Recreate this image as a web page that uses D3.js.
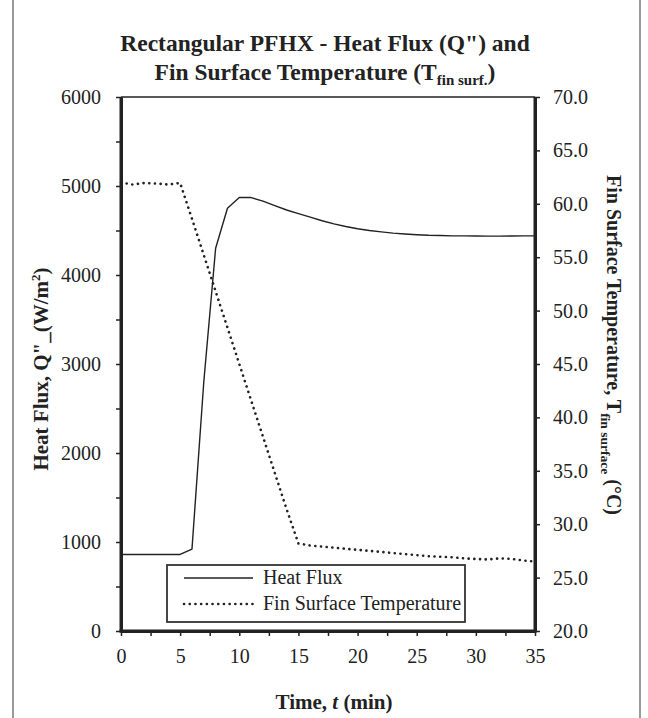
<!DOCTYPE html>
<html><head><meta charset="utf-8">
<script src="https://cdn.jsdelivr.net/npm/d3@7"></script>
<style>body{margin:0;background:#fff}text{font-family:"Liberation Serif","Times New Roman",serif;fill:#222}</style></head>
<body><svg id="c" width="648" height="718"></svg>
<script>
const time = [0,1,2,3,4,5,6,7,8,9,10,11,12,13,14,15,16,17,18,19,20,21,22,23,24,25,26,27,28,29,30,31,32,33,34,35];
const heatFlux = [860,860,860,860,860,860,920,2800,4300,4750,4870,4870,4830,4780,4730,4690,4650,4610,4575,4545,4520,4500,4485,4470,4460,4452,4446,4443,4440,4440,4438,4437,4437,4438,4440,4440];
const finTemp = [62.0,61.8,61.95,61.9,61.8,61.95,58.6,55.2,51.8,48.4,45.0,41.6,38.2,34.8,31.4,28.2,28.0,27.9,27.8,27.7,27.6,27.5,27.4,27.3,27.2,27.1,27.0,26.95,26.9,26.8,26.75,26.7,26.8,26.75,26.6,26.5];
const xTicks = [0,5,10,15,20,25,30,35];
const xMinor = [2.5,7.5,12.5,17.5,22.5,27.5,32.5];
const yLeftTicks = [0,1000,2000,3000,4000,5000,6000];
const yLeftMinor = [500,1500,2500,3500,4500,5500];
const yRightTicks = [20,25,30,35,40,45,50,55,60,65,70];
const seriesNames = ["Heat Flux","Fin Surface Temperature"];

const svg = d3.select("#c");
const L=121, R=535, T=97, B=631;
const x = d3.scaleLinear().domain([0,35]).range([L,R]);
const yL = d3.scaleLinear().domain([0,6000]).range([B,T]);
const yR = d3.scaleLinear().domain([20,70]).range([B,T]);

// outer frame (side edges)
svg.append("line").attr("x1",13).attr("x2",13).attr("y1",0).attr("y2",718).attr("stroke","#9a9a9a").attr("stroke-width",2);
svg.append("line").attr("x1",640).attr("x2",640).attr("y1",0).attr("y2",718).attr("stroke","#9a9a9a").attr("stroke-width",2);

// title
const title = svg.append("text").attr("text-anchor","middle").attr("font-weight","bold").attr("font-size",23.5);
title.append("tspan").attr("x",325).attr("y",51).text('Rectangular PFHX - Heat Flux (Q") and');
const t2 = title.append("tspan").attr("x",325).attr("y",80);
t2.append("tspan").text("Fin Surface Temperature (T");
t2.append("tspan").attr("font-size",15).attr("dy",5).text("fin surf.");
t2.append("tspan").attr("dy",-5).text(")");

function styleAxis(g){
  g.select(".domain").attr("stroke","#222").attr("stroke-width",3);
  g.selectAll(".tick line").attr("stroke","#222").attr("stroke-width",1.5);
  g.selectAll("text").attr("font-size",20).attr("fill","#222").attr("font-family",'"Liberation Serif","Times New Roman",serif');
}
// bottom axis
svg.append("g").attr("transform",`translate(0,${B})`)
  .call(d3.axisBottom(x).tickValues(xMinor).tickSize(5).tickSizeOuter(0).tickFormat(""))
  .call(g=>{g.select(".domain").remove(); g.selectAll(".tick line").attr("stroke","#222").attr("stroke-width",1.5);});
svg.append("g").attr("transform",`translate(0,${B})`)
  .call(d3.axisBottom(x).tickValues(xTicks).tickSize(5).tickSizeOuter(0).tickPadding(13).tickFormat(d3.format("d")))
  .call(styleAxis);
// left axis
svg.append("g").attr("transform",`translate(${L},0)`)
  .call(d3.axisLeft(yL).tickValues(yLeftMinor).tickSize(5).tickFormat(""))
  .call(g=>{g.select(".domain").remove(); g.selectAll(".tick line").attr("stroke","#222").attr("stroke-width",1.5);});
svg.append("g").attr("transform",`translate(${L},0)`)
  .call(d3.axisLeft(yL).tickValues(yLeftTicks).tickSize(5).tickSizeOuter(0).tickPadding(15).tickFormat(d3.format("d")))
  .call(styleAxis);
// right axis
svg.append("g").attr("transform",`translate(${R},0)`)
  .call(d3.axisRight(yR).tickValues(yRightTicks).tickSize(5).tickSizeOuter(0).tickPadding(13).tickFormat(d3.format(".1f")))
  .call(styleAxis);

// plot frame lines (explicit)
const fr = svg.append("g").attr("stroke","#222").attr("fill","none");
fr.append("line").attr("x1",L).attr("x2",R).attr("y1",T).attr("y2",T).attr("stroke-width",1.3);
fr.append("line").attr("x1",L).attr("x2",L).attr("y1",T).attr("y2",B+1.5).attr("stroke-width",3);
fr.append("line").attr("x1",R).attr("x2",R).attr("y1",T).attr("y2",B+1.5).attr("stroke-width",3);
fr.append("line").attr("x1",L-1.5).attr("x2",R+1.5).attr("y1",B).attr("y2",B).attr("stroke-width",3);

// lines
const lineHF = d3.line().x((d,i)=>x(time[i])).y(d=>yL(d));
const lineT = d3.line().x((d,i)=>x(time[i])).y(d=>yR(d));
svg.append("path").attr("d",lineHF(heatFlux)).attr("fill","none").attr("stroke","#222").attr("stroke-width",1.4).attr("stroke-linejoin","round");
svg.append("path").attr("d",lineT(finTemp)).attr("fill","none").attr("stroke","#222").attr("stroke-width",2.6)
  .attr("stroke-dasharray","0.1 5.6").attr("stroke-linecap","round");

// axis titles
const lt = svg.append("text").attr("transform","translate(48,369) rotate(-90)").attr("text-anchor","middle").attr("font-weight","bold").attr("font-size",21);
lt.append("tspan").text('Heat Flux, Q"_(W/m');
lt.append("tspan").attr("font-size",13).attr("dy",-8).text("2");
lt.append("tspan").attr("dy",8).text(")");

const rt = svg.append("text").attr("transform","translate(607,345) rotate(90)").attr("text-anchor","middle").attr("font-weight","bold").attr("font-size",20);
rt.append("tspan").text("Fin Surface Temperature, T");
rt.append("tspan").attr("font-size",13.5).attr("dy",6).text("fin surface");
rt.append("tspan").attr("dy",-6).text(" (°C)");

const xt = svg.append("text").attr("x",334).attr("y",709).attr("text-anchor","middle").attr("font-weight","bold").attr("font-size",21);
xt.append("tspan").text("Time, ");
xt.append("tspan").attr("font-style","italic").text("t");
xt.append("tspan").text(" (min)");

// legend
const lg = svg.append("g");
lg.append("rect").attr("x",167).attr("y",565).attr("width",298).attr("height",57).attr("fill","#fff").attr("stroke","#333").attr("stroke-width",1.8);
lg.append("line").attr("x1",184).attr("x2",253).attr("y1",578).attr("y2",578).attr("stroke","#222").attr("stroke-width",1.4);
lg.append("line").attr("x1",184).attr("x2",253).attr("y1",604).attr("y2",604).attr("stroke","#222").attr("stroke-width",2.6)
  .attr("stroke-dasharray","0.1 5.6").attr("stroke-linecap","round");
lg.selectAll("text.lt").data(seriesNames).enter().append("text").attr("class","lt")
  .attr("x",263).attr("y",(d,i)=>584+i*26).attr("font-size",20).text(d=>d);
</script>
</body></html>
